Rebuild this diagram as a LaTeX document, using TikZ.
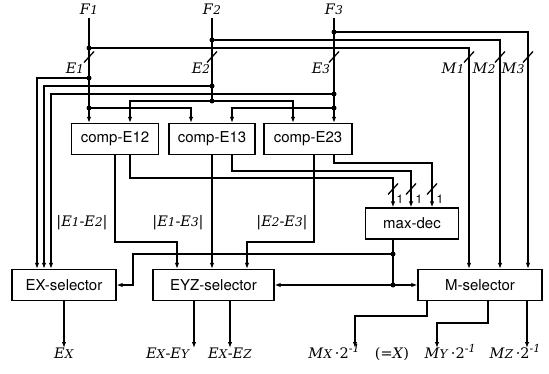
\documentclass[tikz,border=0pt]{standalone}
\usepackage{fontspec}
\newfontfamily\boxfont{TeX Gyre Heros}
\newfontfamily\labfont{DejaVu Serif}
\usetikzlibrary{arrows.meta}
\newcommand{\ix}[2]{\textit{#1}{\fontsize{12}{14}\selectfont\textit{#2}}}
\newcommand{\hlf}{\textperiodcentered 2\raisebox{5.5pt}{\fontsize{11}{12}\selectfont -\textit{1}}}

\begin{document}
\begin{tikzpicture}[
  x=1pt,y=-1pt,line width=1.3pt,
  n/.style={draw,font=\boxfont\fontsize{15}{18}\selectfont,
            minimum height=31pt,inner sep=0pt},
  a/.style={-{Latex[length=6pt,width=4.5pt]}},
  lab/.style={font=\labfont\fontsize{14.5}{17}\selectfont,inner sep=2pt,anchor=base},
  one/.style={font=\boxfont\fontsize{12}{14}\selectfont,inner sep=0pt}
]
\useasboundingbox (0,0) rectangle (549,374);
% blocks
\node[n,minimum width=87pt] (c12) at (115,139) {comp-E12};
\node[n,minimum width=86pt] (c13) at (212,139) {comp-E13};
\node[n,minimum width=88pt] (c23) at (308,139) {comp-E23};
\node[n,minimum width=93pt] (md) at (412,223.5) {max-dec};
\node[n,minimum width=104pt] (ex) at (64,285) {EX-selector};
\node[n,minimum width=121pt] (eyz) at (213.5,285) {EYZ-selector};
\node[n,minimum width=124pt] (ms) at (480,285) {M-selector};
% inputs
\node[lab] (F1) at (89,15) {\ix{F}{1}};
\node[lab] (F2) at (212,15) {\ix{F}{2}};
\node[lab] (F3) at (334,15) {\ix{F}{3}};
\node[lab] (E1) at (75,74) {\ix{E}{1}};
\node[lab] (E2) at (201,74) {\ix{E}{2}};
\node[lab] (E3) at (321,74) {\ix{E}{3}};
\node[lab] (M1) at (453,74) {\ix{M}{1}};
\node[lab] (M2) at (484,74) {\ix{M}{2}};
\node[lab] (M3) at (513,74) {\ix{M}{3}};
% taps
\coordinate (m1) at (89,48);
\coordinate (x1) at (89,78);
\coordinate (t1) at (89,108);
\coordinate (m2) at (212,40);
\coordinate (x2) at (212,86);
\coordinate (t2) at (212,101);
\coordinate (m3) at (334,32);
\coordinate (x3) at (334,94);
\coordinate (t3) at (334,108);
\draw[a] (F1.south) -- ([xshift=-26pt]c12.north);
\draw (F2.south) -- (t2);
\draw[a] (F3.south) -- ([xshift=26pt]c23.north);
\draw[a] (m1) -| ([xshift=-11pt]ms.north);
\draw[a] (m2) -| ([xshift=20pt]ms.north);
\draw[a] (m3) -| ([xshift=48pt]ms.north);
\draw[a] (x1) -| ([xshift=-27pt]ex.north);
\draw[a] (x2) -| ([xshift=-20pt]ex.north);
\draw[a] (x3) -| ([xshift=-13pt]ex.north);
\draw[a] (t1) -| ([xshift=-21pt]c13.north);
\draw[a] (t3) -| ([xshift=20pt]c13.north);
\draw[a] (t2) -| ([xshift=15pt]c12.north);
\draw[a] (t2) -| ([xshift=-15pt]c23.north);
\fill (m1) circle (2.5pt) (x1) circle (2.5pt) (t1) circle (2.5pt);
\fill (m2) circle (2.5pt) (x2) circle (2.5pt) (t2) circle (2.5pt);
\fill (m3) circle (2.5pt) (x3) circle (2.5pt) (t3) circle (2.5pt);
% bus slashes
\draw (84,62.5) -- (94,51.5);
\draw (207,62.5) -- (217,51.5);
\draw (329,62.5) -- (339,51.5);
\draw (464,62.5) -- (474,51.5);
\draw (495,62.5) -- (505,51.5);
\draw (523,62.5) -- (533,51.5);
% comparator outputs
\draw[a] (c12.south) -- (115,242) -| ([xshift=-36.5pt]eyz.north);
\draw[a] (c13.south) -- ([xshift=-1.5pt]eyz.north);
\draw[a] ([xshift=6pt]c23.south) -- (314,242) -| ([xshift=33.5pt]eyz.north);
\draw[a] ([xshift=15pt]c12.south) -- (130,178) -| ([xshift=-19pt]md.north);
\draw[a] ([xshift=20pt]c13.south) -- (232,171) -| ([xshift=-1pt]md.north);
\draw[a] ([xshift=26pt]c23.south) -- (334,163) -| ([xshift=20pt]md.north);
\node[lab] (d12) at (82,227) {|\ix{E}{1}-\ix{E}{2}|};
\node[lab] (d13) at (178,227) {|\ix{E}{1}-\ix{E}{3}|};
\node[lab] (d23) at (282,227) {|\ix{E}{2}-\ix{E}{3}|};
\draw (388,194.5) -- (398,183.5);
\draw (406,194.5) -- (416,183.5);
\draw (427,194.5) -- (437,183.5);
\node[one] (b1) at (400,199) {1};
\node[one] (b2) at (419,199) {1};
\node[one] (b3) at (440,199) {1};
% decoder output
\coordinate (d1) at (393,254);
\coordinate (d2) at (393,285);
\draw ([xshift=-19pt]md.south) -- (d2);
\draw[a] (d1) -- (133,254) |- (ex.east);
\draw[a] (d2) -- (eyz.east);
\draw[a] (d2) -- (ms.west);
\fill (d1) circle (2.5pt) (d2) circle (2.5pt);
% outputs
\coordinate (oEx) at (64,348);
\coordinate (oEy) at (194,348);
\coordinate (oEz) at (230,348);
\coordinate (oMx) at (355,348);
\coordinate (oMy) at (437,348);
\coordinate (oMz) at (527,348);
\draw[a] (ex.south) -- (oEx);
\draw[a] ([xshift=-19.5pt]eyz.south) -- (oEy);
\draw[a] ([xshift=16.5pt]eyz.south) -- (oEz);
\draw[a] ([xshift=-53pt]ms.south) -- (427,316) -| (oMx);
\draw[a] ([xshift=8pt]ms.south) -- (488,323) -| (oMy);
\draw[a] ([xshift=47pt]ms.south) -- (oMz);
\node[lab] (Ex) at (64,358) {\ix{E}{X}};
\node[lab] (ExEy) at (168,358) {\ix{E}{X}-\ix{E}{Y}};
\node[lab] (ExEz) at (230,358) {\ix{E}{X}-\ix{E}{Z}};
\node[lab] (Mx) at (334,358) {\ix{M}{X}\,\hlf};
\node[lab] (eqX) at (392,358) {(=\textit{X})};
\node[lab] (My) at (450,358) {\ix{M}{Y}\,\hlf};
\node[lab] (Mz) at (515,358) {\ix{M}{Z}\,\hlf};
\end{tikzpicture}
\end{document}
